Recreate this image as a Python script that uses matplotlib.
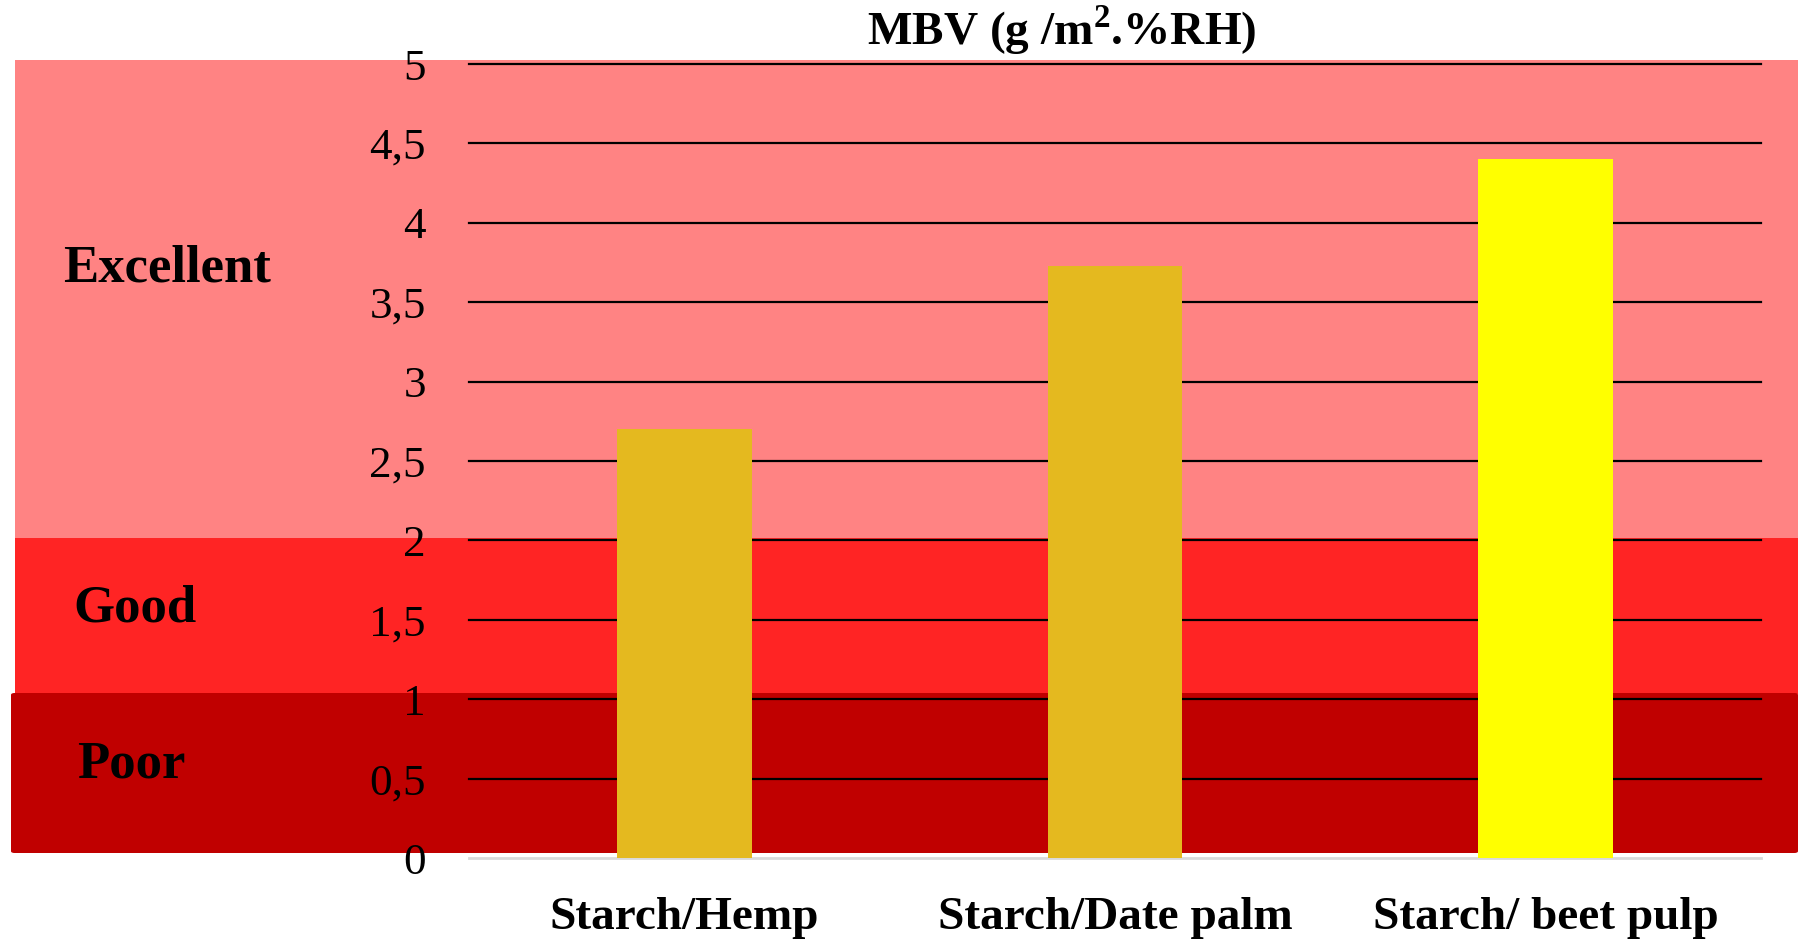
import matplotlib
matplotlib.use("Agg")
import matplotlib.pyplot as plt
from matplotlib.patches import FancyBboxPatch

categories = ["Starch/Hemp", "Starch/Date palm", "Starch/ beet pulp"]
values = [2.70, 3.73, 4.40]
bar_colors = ["#E4B91F", "#E4B91F", "#FFFF00"]
yticks = [0, 0.5, 1, 1.5, 2, 2.5, 3, 3.5, 4, 4.5, 5]
ytick_labels = ["0", "0,5", "1", "1,5", "2", "2,5", "3", "3,5", "4", "4,5", "5"]
band_labels = ["Excellent", "Good", "Poor"]
title = r"MBV (g /m$^{\mathregular{2}}$.%RH)"

W, H = 1798, 941
fig = plt.figure(figsize=(W / 100, H / 100), dpi=100)
serif = ["Liberation Serif", "DejaVu Serif"]

def px_rect(x0, y0, x1, y1, color, rounded=False):
    fx0, fx1 = x0 / W, x1 / W
    fy0, fy1 = 1 - y1 / H, 1 - y0 / H
    if rounded:
        p = FancyBboxPatch((fx0, fy0), fx1 - fx0, fy1 - fy0,
                           boxstyle="round,pad=0,rounding_size=0.002",
                           transform=fig.transFigure, facecolor=color,
                           edgecolor="none", zorder=-5)
    else:
        p = plt.Rectangle((fx0, fy0), fx1 - fx0, fy1 - fy0,
                          transform=fig.transFigure, facecolor=color,
                          edgecolor="none", zorder=-5)
    fig.patches.append(p)

px_rect(15, 60, 1798, 538, "#FF8383")
px_rect(15, 538, 1798, 694, "#FF2424")
px_rect(11, 693, 1798, 853, "#C00000", rounded=True)

ax = fig.add_axes([469 / W, 1 - 858 / H, (1761 - 469) / W, (858 - 64) / H])
ax.set_zorder(1)
ax.patch.set_alpha(0)
ax.set_xlim(-0.5, 2.5)
ax.set_ylim(0, 5)

x = list(range(len(categories)))
ax.bar(x, values, width=0.313, color=bar_colors, zorder=3)

ax.set_yticks(yticks)
ax.set_yticklabels(ytick_labels, fontfamily=serif, fontsize=32.5)
ax.set_xticks(x)
ax.set_xticklabels(categories, fontfamily=serif, fontsize=34, fontweight="bold")
ax.tick_params(axis="y", length=0, pad=31)
ax.tick_params(axis="x", length=0, pad=28)

for yv in yticks[1:]:
    ax.axhline(yv, color="black", lw=1.6, zorder=2, clip_on=False)
ax.axhline(0, color="#D9D9D9", lw=2, zorder=2, clip_on=False)

for s in ax.spines.values():
    s.set_visible(False)

fig.text(1062 / W, 1 - 45 / H, title, ha="center", va="baseline",
         fontfamily=serif, fontsize=34, fontweight="bold", zorder=5)

band_pos = [(63, 282), (73, 622), (77, 777)]
for lab, (bx, by) in zip(band_labels, band_pos):
    fig.text(bx / W, 1 - by / H, lab, ha="left", va="baseline",
             fontfamily=serif, fontsize=38, fontweight="bold", zorder=5)

fig.savefig("out.png", dpi=100)
